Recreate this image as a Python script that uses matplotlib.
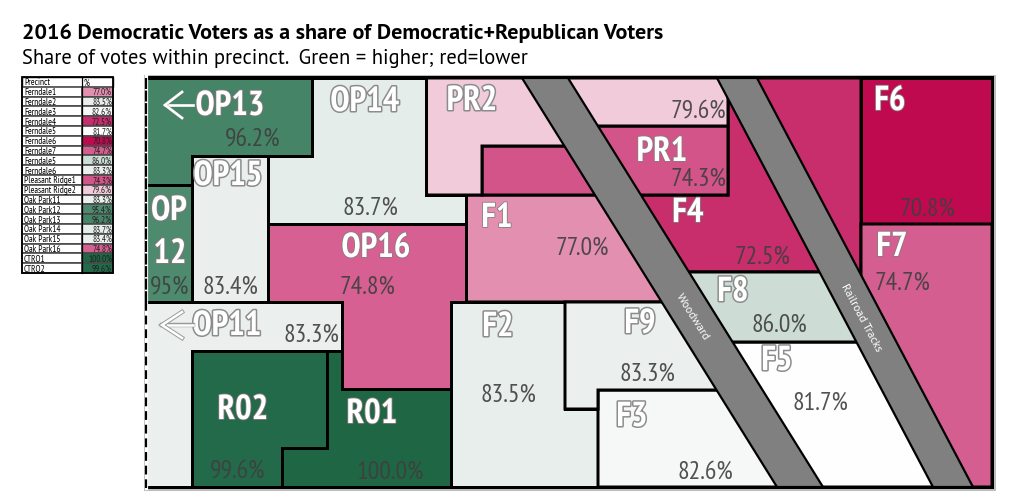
import matplotlib
matplotlib.use("Agg")
import matplotlib.pyplot as plt
import matplotlib.patheffects as pe
from matplotlib.colors import LinearSegmentedColormap, Normalize
from matplotlib.patches import Polygon, Rectangle

# ---- data ----
table_names = ["Ferndale1", "Ferndale2", "Ferndale3", "Ferndale4", "Ferndale5", "Ferndale6",
               "Ferndale7", "Ferndale5", "Ferndale6", "Pleasant Ridge1", "Pleasant Ridge2",
               "Oak Park11", "Oak Park12", "Oak Park13", "Oak Park14", "Oak Park15", "Oak Park16",
               "CTRO1", "CTRO2"]
table_values = [77.0, 83.5, 82.6, 72.5, 81.7, 70.8, 74.7, 86.0, 83.3, 74.3, 79.6,
                83.3, 95.4, 96.2, 83.7, 83.4, 74.8, 100.0, 99.6]
precincts = ["F1", "F2", "F3", "F4", "F5", "F6", "F7", "F8", "F9", "PR1", "PR2",
             "OP11", "OP12", "OP13", "OP14", "OP15", "OP16", "R01", "R02"]
title_text = "2016 Democratic Voters as a share of Democratic+Republican Voters"
subtitle_text = "Share of votes within precinct.  Green = higher; red=lower"

# ---- colour scale ----
anchors = [(70.8, "#C00A50"), (72.5, "#C92F6E"), (74.7, "#D55E90"), (77.0, "#E390B0"),
           (79.6, "#F2CBDB"), (81.7, "#FFFFFF"), (82.6, "#F5F8F7"), (83.3, "#EBF0EF"),
           (83.7, "#E5EDEA"), (86.0, "#CDDDD6"), (95.4, "#4D8A6E"), (99.6, "#236B4B"),
           (100.0, "#1F6644")]
norm = Normalize(70.8, 100.0)
cmap = LinearSegmentedColormap.from_list("share", [(float(norm(v)), c) for v, c in anchors])

# ---- map geometry (pixels of the schematic) ----
shapes = {
    "OP13": [(146, 79), (312, 79), (312, 157), (192, 157), (192, 186), (146, 186)],
    "OP14": [(312, 79), (426, 79), (426, 196), (466, 196), (466, 225), (268, 225), (268, 157), (312, 157)],
    "OP15": [(192, 157), (268, 157), (268, 303), (192, 303)],
    "OP12": [(146, 186), (192, 186), (192, 303), (146, 303)],
    "OP16": [(268, 225), (466, 225), (466, 303), (451, 303), (451, 390), (342, 390), (342, 303), (268, 303)],
    "OP11": [(146, 303), (342, 303), (342, 352), (192, 352), (192, 488), (146, 488)],
    "R02": [(192, 352), (327, 352), (327, 449), (282, 449), (282, 488), (192, 488)],
    "R01": [(327, 352), (342, 352), (342, 390), (451, 390), (451, 488), (282, 488), (282, 449), (327, 449)],
    "F2": [(451, 303), (565, 303), (565, 410), (598, 410), (598, 488), (451, 488)],
    "F9": [(565, 303), (690, 303), (745, 391), (598, 391), (598, 410), (565, 410)],
    "F3": [(598, 391), (745, 391), (810, 488), (598, 488)],
    "F1": [(466, 196), (600, 196), (690, 303), (466, 303)],
    "PR2": [(426, 79), (728, 79), (728, 127), (585, 127), (565, 147), (482, 147), (482, 196), (426, 196)],
    "PR1": [(482, 147), (565, 147), (585, 127), (728, 127), (728, 196), (482, 196)],
    "F4": [(728, 79), (861, 79), (861, 273), (660, 273), (640, 196), (728, 196)],
    "F8": [(680, 273), (840, 273), (870, 343), (720, 343)],
    "F5": [(720, 343), (870, 343), (950, 488), (800, 488)],
    "F6": [(861, 79), (992, 79), (992, 225), (861, 225)],
    "F7": [(861, 225), (992, 225), (992, 488), (950, 488), (861, 300)],
}
roads = {
    "Woodward": ([(522, 79), (568, 79), (823, 488), (777, 488)], (693, 317), -58),
    "Railroad Tracks": ([(717, 79), (757, 79), (973, 488), (933, 488)], (861, 318), -62),
}
names = {  # label centre, value centre
    "OP13": ((230, 107), (253, 140)), "OP14": ((365, 103), (370, 208)),
    "OP15": ((228, 177), (230, 287)), "OP16": ((376, 249), (367, 287)),
    "PR2": ((472, 102), (698, 112)), "PR1": ((662, 153), (698, 179)),
    "F4": ((688, 214), (762, 257)), "F1": ((497, 219), (582, 248)),
    "F6": ((890, 102), (927, 209)), "F7": ((892, 248), (902, 283)),
    "F8": ((733, 293), (779, 325)), "F5": ((777, 362), (820, 403)),
    "F2": ((498, 328), (508, 395)), "F9": ((640, 325), (647, 374)),
    "F3": ((632, 418), (705, 472)), "OP11": ((227, 327), (311, 335)),
    "R02": ((243, 411), (238, 472)), "R01": ((372, 415), (390, 472)),
}
dark_labels = {"OP13", "OP12", "OP16", "PR1", "F4", "F1", "F6", "F7", "R01", "R02"}

share = dict(zip(precincts, table_values))
NARROW = ["PT Sans Narrow", "Open Sans Condensed", "DejaVu Sans"]
HUMAN = ["PT Sans", "Open Sans", "DejaVu Sans"]
PX = 0.72

fig = plt.figure(figsize=(10.24, 5.02), dpi=100)
ax = fig.add_axes([0, 0, 1, 1])
ax.set_xlim(0, 1024)
ax.set_ylim(502, 0)
ax.axis("off")

# titles
ax.text(22, 33, title_text, fontsize=15.8, fontweight="bold", family=HUMAN,
        va="center", ha="left", color="black")
ax.text(22, 58, subtitle_text, fontsize=14.8, family=HUMAN,
        va="center", ha="left", color="black")

# halo and precinct fills
ax.add_patch(Rectangle((145, 77), 849, 413, fc="none", ec="#BDBDBD", lw=2.2, zorder=1))
for p in precincts:
    ax.add_patch(Polygon(shapes[p], closed=True, fc=cmap(norm(share[p])), ec="black",
                         lw=3 * PX, joinstyle="miter", zorder=2))

# roads
for label_text, (poly, (cx, cy), rot) in roads.items():
    ax.add_patch(Polygon(poly, closed=True, fc="#808080", ec="black", lw=2.2 * PX, zorder=3))
    ax.text(cx, cy, label_text, color="white", fontsize=8.4, rotation=rot, ha="center", va="center",
            rotation_mode="anchor", family=HUMAN, zorder=6)

# frame, dashed left side
ax.plot([146, 146, 992, 992, 146], [488, 78, 78, 488, 488], color="black", lw=3 * PX, zorder=4,
        solid_joinstyle="miter")
ax.plot([146, 146], [77, 489], color="white", lw=3.2 * PX, zorder=4.1)
ax.plot([146, 146], [79, 303], color="black", lw=2.2 * PX, zorder=4.2, dashes=(5, 0.7))
ax.plot([146, 146], [303, 489], color="black", lw=2.2 * PX, zorder=4.2, dashes=(4, 2.2))


def label(x, y, s, dark):
    stroke = "#8C8C8C" if not dark else "#8A7A7F"
    ax.text(x, y, s, color="white", fontsize=25, fontweight="bold", family=NARROW,
            ha="center", va="center", zorder=7,
            path_effects=[pe.withStroke(linewidth=2.2 if not dark else 1.2, foreground=stroke)])


def value(x, y, v):
    ax.text(x, y, f"{v:.1f}%", color="#3F3F3F", alpha=0.9, fontsize=18.5, family=NARROW,
            ha="center", va="center", zorder=7)


for p, (lab, val) in names.items():
    label(lab[0], lab[1], p, p in dark_labels)
    value(val[0], val[1], share[p])

# split label of OP12
label(169, 212, "OP", True)
label(170, 255, "12", True)
ax.text(170, 287, "95%", color="#3F3F3F", alpha=0.9, fontsize=18.5, family=NARROW,
        ha="center", va="center", zorder=7)


def arrow(tip, end, y, head, dark):
    stroke = "#9A9A9A"
    effects = [pe.withStroke(linewidth=3.2 if not dark else 2.2, foreground=stroke)]
    ax.plot([end, tip], [y, y], color="white", lw=1.8, zorder=7, path_effects=effects)
    ax.plot([head, tip, head], [y - 13, y, y + 13], color="white", lw=1.8, zorder=7,
            path_effects=effects, solid_joinstyle="miter")


arrow(165, 193, 106, 182, True)
arrow(162, 193, 326, 182, False)

# table
tx0, tx1, tx2 = 22, 82, 113
ty0, rh = 78, 9.8
TS = 6.7
ax.add_patch(Rectangle((tx0, ty0), tx2 - tx0, rh, fc="white", ec="black", lw=1.0, zorder=2))
ax.text(tx0 + 2, ty0 + rh / 2, "Precinct", fontsize=TS, family=NARROW, va="center", zorder=3)
ax.text(tx1 + 2, ty0 + rh / 2, "%", fontsize=TS, family=NARROW, va="center", zorder=3)
for i, (n, v) in enumerate(zip(table_names, table_values)):
    y = ty0 + rh * (i + 1)
    ax.add_patch(Rectangle((tx0, y), tx1 - tx0, rh, fc="white", ec="#4A4A4A", lw=1.2, zorder=2))
    ax.add_patch(Rectangle((tx1, y), tx2 - tx1, rh, fc=cmap(norm(v)), ec="#4A4A4A", lw=1.2, zorder=2))
    ax.text(tx0 + 2, y + rh / 2, n, fontsize=TS, family=NARROW, va="center", zorder=3)
    ax.text(tx2 - 1, y + rh / 2, f"{v:.1f}%", fontsize=TS, family=NARROW, va="center", ha="right",
            color="#222222", zorder=3)
ax.add_patch(Rectangle((tx0, ty0), tx2 - tx0, rh * 20, fc="none", ec="black", lw=1.3, zorder=4))
ax.plot([tx1, tx1], [ty0, ty0 + rh * 20], color="black", lw=0.9, zorder=4)

fig.savefig("out.png", dpi=100)
